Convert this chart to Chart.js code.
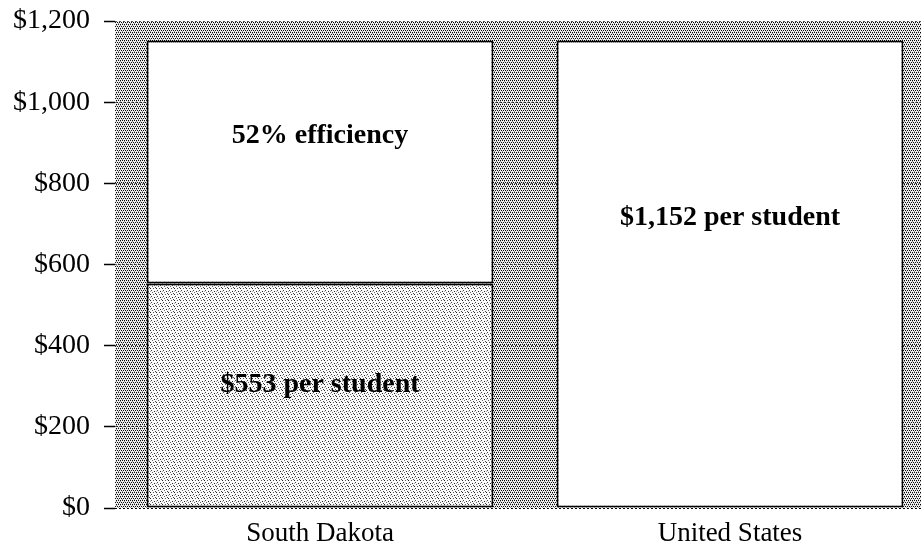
<!DOCTYPE html>
<html>
<head>
<meta charset="utf-8">
<script src="https://cdn.jsdelivr.net/npm/chart.js@4"></script>
<style>
  html, body { margin: 0; padding: 0; background: #fff; overflow: hidden; }
  #wrap { width: 935px; height: 544px; position: relative; }
</style>
</head>
<body>
<div id="wrap"><canvas id="c"></canvas></div>
<script>
// ---- data ----
const categories = ["South Dakota", "United States"];
const perStudent = [553, 1152];          // spending per student
const efficiencyGap = [599, 0];          // remainder up to US level
const perStudentLabels = ["$553 per student", "$1,152 per student"];
const gapLabels = ["52% efficiency", ""];
const yTicks = [0, 200, 400, 600, 800, 1000, 1200];

function makePattern(w, h, dots, bg) {
  const c = document.createElement('canvas');
  c.width = w; c.height = h;
  const g = c.getContext('2d');
  g.fillStyle = bg; g.fillRect(0, 0, w, h);
  dots.forEach(d => { g.fillStyle = d[2]; g.fillRect(d[0], d[1], 1, 1); });
  return g.createPattern(c, 'repeat');
}
const darkStipple = makePattern(4, 4, [[0,0,'#000'],[2,0,'#111'],[1,2,'#000'],[3,2,'#111'],[0,1,'#999'],[2,3,'#999']], '#f0f0f0');
const lightStipple = makePattern(6, 6, [[0,0,'#222'],[3,0,'#555'],[1,2,'#444'],[4,3,'#222'],[2,4,'#666'],[5,5,'#444'],[0,3,'#aaa']], '#fafafa');

const bgPlugin = {
  id: 'bgStipple',
  beforeDraw(chart) {
    const {ctx, chartArea: a} = chart;
    ctx.save();
    ctx.fillStyle = darkStipple;
    ctx.fillRect(a.left, a.top, a.right - a.left, a.bottom - a.top);
    ctx.restore();
  }
};

const labelPlugin = {
  id: 'barLabels',
  afterDatasetsDraw(chart) {
    const {ctx} = chart;
    const y = chart.scales.y;
    ctx.save();
    ctx.font = 'bold 28px "Liberation Serif", "Times New Roman", serif';
    ctx.fillStyle = '#000';
    ctx.textAlign = 'center';
    ctx.textBaseline = 'middle';
    const m0 = chart.getDatasetMeta(0);
    categories.forEach((cat, i) => {
      const top0 = perStudent[i];
      const x = m0.data[i].x;
      ctx.fillText(perStudentLabels[i], x, y.getPixelForValue(top0 * (i === 0 ? 0.55 : 0.62)));
      if (gapLabels[i]) {
        ctx.fillText(gapLabels[i], x, y.getPixelForValue(top0 + efficiencyGap[i] * 0.61));
      }
    });
    ctx.restore();
  }
};

new Chart(document.getElementById('c'), {
  type: 'bar',
  data: {
    labels: categories,
    datasets: [
      {
        label: 'Per student',
        data: perStudent,
        backgroundColor: [lightStipple, '#ffffff'],
        borderColor: '#000',
        borderWidth: 2,
        borderSkipped: false,
        categoryPercentage: 1,
        barPercentage: 0.846
      },
      {
        label: 'Gap',
        data: efficiencyGap,
        backgroundColor: '#ffffff',
        borderColor: '#000',
        borderWidth: 2,
        borderSkipped: false,
        categoryPercentage: 1,
        barPercentage: 0.846
      }
    ]
  },
  options: {
    responsive: true,
    maintainAspectRatio: false,
    animation: false,
    events: [],
    layout: { padding: { top: 21, left: 0, right: 0, bottom: 0 } },
    plugins: { legend: { display: false }, tooltip: { enabled: false } },
    scales: {
      x: {
        stacked: true,
        grid: { display: false, drawTicks: false },
        border: { display: false },
        afterFit(s) { s.height = 36; s.paddingLeft = 0; s.paddingRight = 0; },
        ticks: {
          color: '#000',
          padding: 12,
          maxRotation: 0,
          font: { family: '"Liberation Serif", "Times New Roman", serif', size: 27, lineHeight: 1 }
        }
      },
      y: {
        stacked: true,
        min: 0,
        max: 1200,
        afterBuildTicks(axis) { axis.ticks = yTicks.map(v => ({ value: v })); },
        afterFit(s) { s.width = 115; s.paddingTop = 0; s.paddingBottom = 0; },
        grid: {
          color: ctx => (ctx.tick && ctx.tick.value === 0) ? '#000' : '#555',
          lineWidth: 1,
          tickLength: 11,
          tickColor: '#000',
          tickWidth: 1.5,
          tickBorderDash: []
        },
        border: { display: false, dash: [2, 2] },
        ticks: {
          color: '#000',
          padding: 14,
          font: { family: '"Liberation Serif", "Times New Roman", serif', size: 28 },
          callback: v => '$' + Number(v).toLocaleString('en-US')
        }
      }
    }
  },
  plugins: [bgPlugin, labelPlugin]
});
</script>
</body>
</html>
